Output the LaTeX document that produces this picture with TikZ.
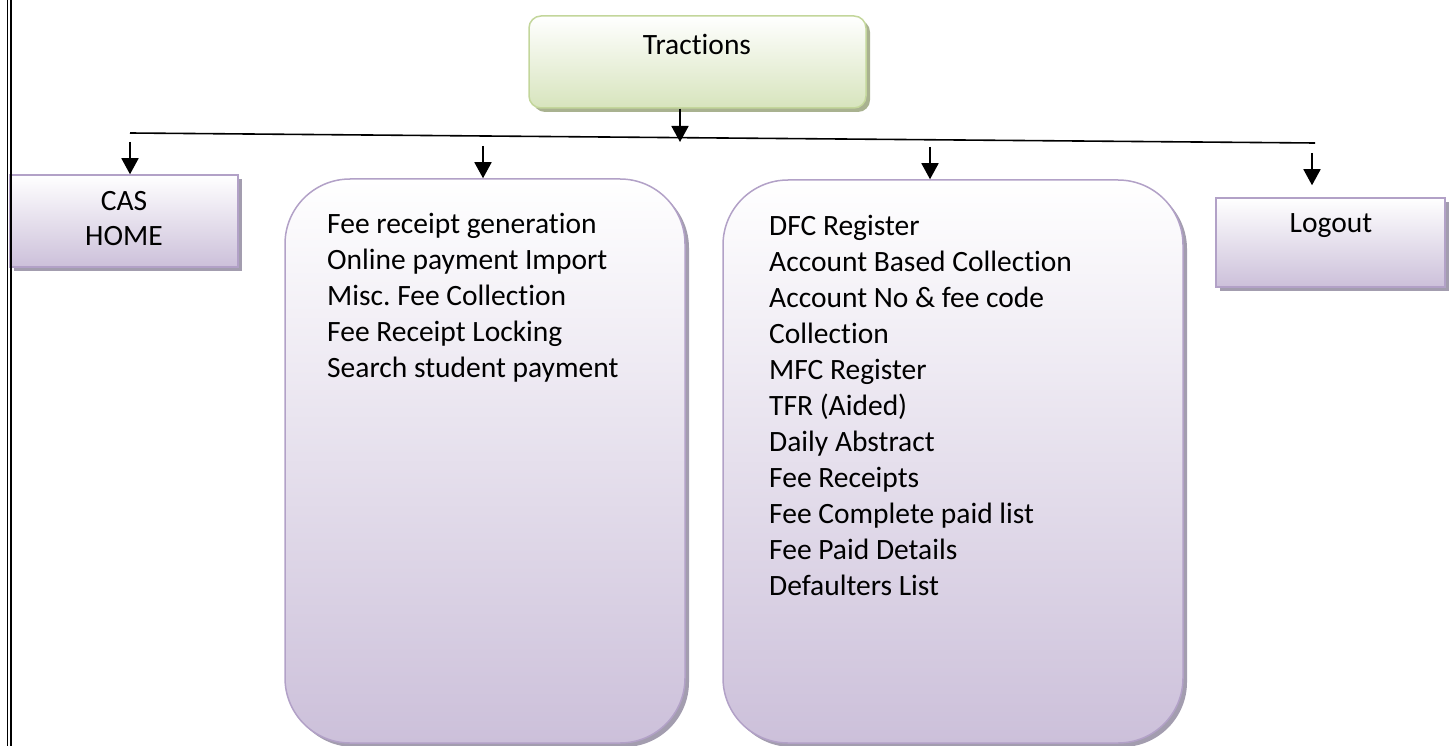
\documentclass[tikz,border=0pt]{standalone}
\usepackage{fontspec}
\setmainfont[Ligatures=NoCommon]{Carlito}
\usetikzlibrary{arrows.meta,shadows}
\definecolor{purpB}{HTML}{B2A1C7}
\definecolor{purpF}{HTML}{CCC0DA}
\definecolor{greenB}{HTML}{C3D69B}
\definecolor{greenF}{HTML}{D7E4BD}
\definecolor{purpS}{HTML}{A39DAF}
\definecolor{greenS}{HTML}{A9B290}
\frenchspacing
\begin{document}
\begin{tikzpicture}[x=1pt,y=-1pt,
  txt/.style={font=\fontsize{29.5}{36}\selectfont, inner sep=0pt},
  pbox/.style={draw=purpB, line width=1.5pt, top color=white, bottom color=purpF,
    inner sep=0pt, drop shadow={shadow xshift=4pt, shadow yshift=-4pt, fill=purpS, opacity=1}},
  gbox/.style={draw=greenB, line width=1.5pt, top color=white, bottom color=greenF,
    inner sep=0pt, rounded corners=12pt,
    drop shadow={shadow xshift=4pt, shadow yshift=-4pt, fill=greenS, opacity=1}},
  arr/.style={line width=1.7pt, -{Triangle[width=17pt,length=16pt]}},
  bus/.style={line width=1.6pt}]
\useasboundingbox (0,0) rectangle (1455,746);

% boxes
\node[gbox, minimum width=337pt, minimum height=92pt] (trac) at (697.5,62) {};
\node[pbox, minimum width=228pt, minimum height=92pt] (cas) at (124,221) {};
\node[pbox, minimum width=229pt, minimum height=89pt] (logout) at (1330.5,242.5) {};
\node[pbox, rounded corners=65pt, minimum width=400pt, minimum height=564pt] (box2) at (485,461) {};
\node[pbox, rounded corners=65pt, minimum width=460pt, minimum height=563pt] (box3) at (953,461.5) {};

% texts
\node[txt, anchor=base] (tractxt) at (697,55) {Tractions};
\node[txt, anchor=base] (cas1) at (124,210) {CAS};
\node[txt, anchor=base] (cas2) at (124,245) {HOME};
\node[txt, anchor=base] (logtxt) at (1331,232) {Logout};
\foreach \t [count=\i] in {{Fee receipt generation},{Online payment Import},{Misc. Fee Collection},{Fee Receipt Locking},{Search student payment}}
  \node[txt, anchor=base west] (bl\i) at (327,{233+36*(\i-1)}) {\t};
\foreach \t [count=\i] in {{DFC Register},{Account Based Collection},{Account No \& fee code},{Collection},{MFC Register},{TFR (Aided)},{Daily Abstract},{Fee Receipts},{Fee Complete paid list},{Fee Paid Details},{Defaulters List}}
  \node[txt, anchor=base west] (cl\i) at (769,{235+36*(\i-1)}) {\t};

% connectors
\coordinate (t1) at (680,142);
\coordinate (busL) at (130,133);
\coordinate (busR) at (1315,143);
\coordinate (a1) at (130,142);
\coordinate (a2) at (483,146);
\coordinate (a3) at (930,147);
\coordinate (a4) at (1312,153);
\draw[bus] (busL) -- (busR);
\draw[arr] (trac.south -| t1) -- (t1);
\draw[arr] (a1) -- (a1 |- cas.north);
\draw[arr] (a2) -- (a2 |- box2.north);
\draw[arr] (a3) -- (a3 |- box3.north);
\draw[arr, shorten >=12pt] (a4) -- (a4 |- logout.north);

% left page border
\coordinate (lt1) at (7.5,0);
\coordinate (lb1) at (7.5,746);
\coordinate (lt2) at (10.8,0);
\coordinate (lb2) at (10.8,746);
\draw[line width=0.9pt] (lt1) -- (lb1);
\draw[line width=1.8pt] (lt2) -- (lb2);
\end{tikzpicture}
\end{document}
